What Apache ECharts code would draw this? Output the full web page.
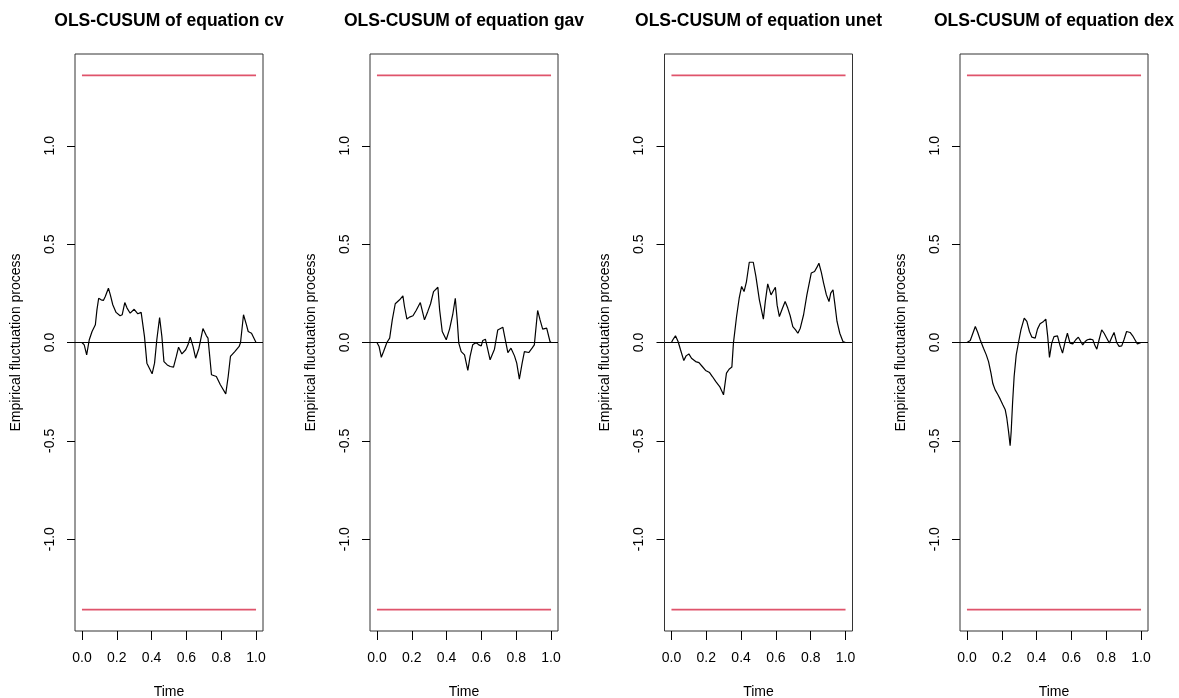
<!DOCTYPE html>
<html>
<head>
<meta charset="utf-8">
<script src="https://cdn.jsdelivr.net/npm/echarts@6/dist/echarts.min.js"></script>
<style>
html,body{margin:0;padding:0;background:#fff;}
#chart{width:1179px;height:698px;}
</style>
</head>
<body>
<div id="chart"></div>
<script>
// ---- data ----
const equations = ["cv", "gav", "unet", "dex"];
const boundary = 1.358;
const xTicks = [0, 0.2, 0.4, 0.6, 0.8, 1.0];
const yTicks = [-1.0, -0.5, 0.0, 0.5, 1.0];

const cvT = [0,0.013,0.027,0.042,0.058,0.077,0.086,0.096,0.11,0.123,0.134,0.152,0.163,0.177,0.196,0.219,0.231,0.246,0.259,0.277,0.30,0.321,0.34,0.35,0.359,0.373,0.403,0.417,0.43,0.446,0.459,0.471,0.49,0.507,0.526,0.542,0.555,0.574,0.596,0.609,0.622,0.638,0.653,0.672,0.695,0.715,0.724,0.744,0.772,0.795,0.826,0.84,0.853,0.878,0.903,0.911,0.928,0.945,0.955,0.974,1.0];
const cvV = [0,-0.012,-0.063,0.014,0.056,0.09,0.166,0.225,0.217,0.214,0.234,0.276,0.242,0.192,0.153,0.136,0.141,0.203,0.175,0.149,0.169,0.146,0.153,0.158,0.031,-0.105,-0.159,-0.105,0.014,0.127,0.031,-0.097,-0.114,-0.122,-0.125,-0.071,-0.024,-0.058,-0.037,-0.012,0.027,-0.02,-0.08,-0.029,0.071,0.034,0.022,-0.164,-0.173,-0.215,-0.261,-0.173,-0.071,-0.046,-0.02,0,0.141,0.09,0.056,0.047,0];

const gavT = [0,0.012,0.025,0.038,0.057,0.073,0.088,0.105,0.13,0.149,0.158,0.172,0.187,0.207,0.225,0.249,0.273,0.292,0.308,0.325,0.35,0.36,0.375,0.398,0.417,0.436,0.45,0.461,0.47,0.484,0.503,0.522,0.535,0.55,0.57,0.585,0.599,0.608,0.623,0.637,0.65,0.675,0.694,0.723,0.742,0.752,0.77,0.79,0.803,0.818,0.834,0.847,0.872,0.891,0.904,0.923,0.937,0.952,0.975,0.994,1.0];
const gavV = [0,-0.02,-0.075,-0.046,0,0.022,0.115,0.197,0.217,0.237,0.183,0.119,0.129,0.136,0.163,0.203,0.115,0.158,0.197,0.259,0.281,0.166,0.056,0.014,0.068,0.146,0.225,0.115,-0.003,-0.046,-0.063,-0.142,-0.071,-0.012,0,-0.012,-0.017,0.01,0.017,-0.037,-0.088,-0.034,0.064,0.078,-0.007,-0.051,-0.029,-0.068,-0.105,-0.186,-0.105,-0.046,-0.051,-0.029,-0.012,0.163,0.115,0.068,0.073,0.005,0];

const unetT = [0,0.008,0.023,0.038,0.052,0.071,0.084,0.1,0.115,0.139,0.158,0.177,0.196,0.219,0.235,0.254,0.277,0.299,0.316,0.331,0.347,0.356,0.374,0.389,0.403,0.417,0.431,0.447,0.47,0.485,0.505,0.528,0.539,0.553,0.572,0.586,0.597,0.607,0.62,0.636,0.653,0.668,0.682,0.697,0.713,0.726,0.74,0.759,0.778,0.803,0.822,0.836,0.847,0.861,0.874,0.89,0.905,0.915,0.928,0.938,0.951,0.967,0.985,1.0];
const unetV = [0,0.014,0.034,0.005,-0.037,-0.092,-0.068,-0.058,-0.08,-0.097,-0.102,-0.122,-0.142,-0.153,-0.173,-0.198,-0.224,-0.266,-0.156,-0.136,-0.125,-0.003,0.132,0.225,0.285,0.259,0.31,0.408,0.408,0.336,0.217,0.119,0.208,0.298,0.242,0.264,0.281,0.19,0.132,0.17,0.208,0.175,0.136,0.081,0.064,0.047,0.073,0.141,0.242,0.353,0.361,0.383,0.403,0.356,0.302,0.242,0.208,0.251,0.268,0.2,0.107,0.047,0.005,0];

const dexT = [0,0.019,0.034,0.048,0.062,0.076,0.095,0.111,0.124,0.138,0.149,0.162,0.178,0.191,0.206,0.22,0.229,0.239,0.248,0.254,0.262,0.271,0.283,0.296,0.31,0.329,0.344,0.359,0.373,0.392,0.405,0.42,0.44,0.453,0.464,0.474,0.487,0.5,0.52,0.535,0.549,0.564,0.577,0.592,0.608,0.625,0.64,0.654,0.665,0.679,0.692,0.707,0.723,0.736,0.746,0.759,0.774,0.788,0.803,0.818,0.832,0.845,0.86,0.874,0.889,0.902,0.917,0.937,0.952,0.965,0.979,0.99,1.0];
const dexV = [0,0.01,0.047,0.081,0.051,0.014,-0.029,-0.063,-0.097,-0.156,-0.21,-0.241,-0.266,-0.288,-0.317,-0.342,-0.385,-0.453,-0.525,-0.453,-0.308,-0.173,-0.063,0,0.064,0.124,0.107,0.056,0.027,0.022,0.068,0.095,0.107,0.119,0.03,-0.076,-0.003,0.03,0.034,-0.017,-0.054,0.005,0.047,-0.003,-0.007,0.014,0.027,0.005,-0.012,0.005,0.014,0.017,0.014,-0.017,-0.034,0.014,0.064,0.047,0.022,-0.003,0.027,0.051,0,-0.02,-0.017,0.014,0.056,0.051,0.034,0.014,-0.008,-0.003,0];

const seriesT = [cvT, gavT, unetT, dexT];
const seriesV = [cvV, gavV, unetV, dexV];

// ---- layout ----
const gridLefts = [75, 370, 664.5, 960];
const gridTop = 54, gridW = 188, gridH = 577;
const xMin = -0.04, xMax = 1.04;
const yMax = boundary * 1.08;

const FONT = "'Liberation Sans', Arial, Helvetica, sans-serif";
const RED = '#DF536B';
const chart = echarts.init(document.getElementById('chart'), null, {renderer: 'canvas'});

const grids = [], xAxes = [], yAxes = [], series = [], titles = [];
equations.forEach((eq, i) => {
  grids.push({left: gridLefts[i], top: gridTop, width: gridW, height: gridH,
    outerBoundsMode: 'none', containLabel: false,
    show: true, borderColor: '#333', borderWidth: 1, backgroundColor: 'transparent'});
  titles.push({text: 'OLS-CUSUM of equation ' + eq, left: gridLefts[i] + gridW / 2, top: 12,
    textAlign: 'center', padding: 0,
    textStyle: {fontFamily: FONT, fontSize: 17.5, fontWeight: 'bold', color: '#000'}});
  xAxes.push({type: 'value', gridIndex: i, min: xMin, max: xMax, position: 'bottom',
    name: 'Time', nameLocation: 'middle', nameGap: 54,
    nameTextStyle: {fontFamily: FONT, fontSize: 14, color: '#000'},
    axisLine: {show: false, onZero: false}, splitLine: {show: false},
    axisTick: {show: true, inside: false, customValues: xTicks, length: 9, lineStyle: {color: '#000', width: 1}},
    axisLabel: {show: true, customValues: xTicks, margin: 20, fontFamily: FONT, fontSize: 14, color: '#000',
      formatter: v => v.toFixed(1)}});
  yAxes.push({type: 'value', gridIndex: i, min: -yMax, max: yMax, position: 'left',
    name: 'Empirical fluctuation process', nameLocation: 'middle', nameGap: 52,
    nameTextStyle: {fontFamily: FONT, fontSize: 14, color: '#000'},
    axisLine: {show: false, onZero: false}, splitLine: {show: false},
    axisTick: {show: true, inside: false, customValues: yTicks, length: 8, lineStyle: {color: '#000', width: 1}},
    axisLabel: {show: true, customValues: yTicks, margin: 18, rotate: 90, fontFamily: FONT, fontSize: 14, color: '#000',
      formatter: v => v.toFixed(1)}});
  const pts = seriesT[i].map((t, k) => [t, seriesV[i][k]]);
  series.push({type: 'line', xAxisIndex: i, yAxisIndex: i, data: pts, showSymbol: false, symbol: 'none',
    color: '#000', lineStyle: {color: '#000', width: 1.2}, animation: false, silent: true,
    markLine: {silent: true, symbol: 'none', label: {show: false}, animation: false,
      lineStyle: {color: '#000', width: 1.2, type: 'solid'}, data: [{yAxis: 0}]}});
  [boundary, -boundary].forEach(b => {
    series.push({type: 'line', xAxisIndex: i, yAxisIndex: i, data: [[0, b], [1, b]],
      showSymbol: false, symbol: 'none', color: RED, itemStyle: {color: RED},
      lineStyle: {color: RED, width: 1.6, opacity: 1},
      animation: false, silent: true});
  });
});

chart.setOption({
  backgroundColor: '#fff',
  animation: false,
  title: titles,
  grid: grids,
  xAxis: xAxes,
  yAxis: yAxes,
  series: series
});
</script>
</body>
</html>
